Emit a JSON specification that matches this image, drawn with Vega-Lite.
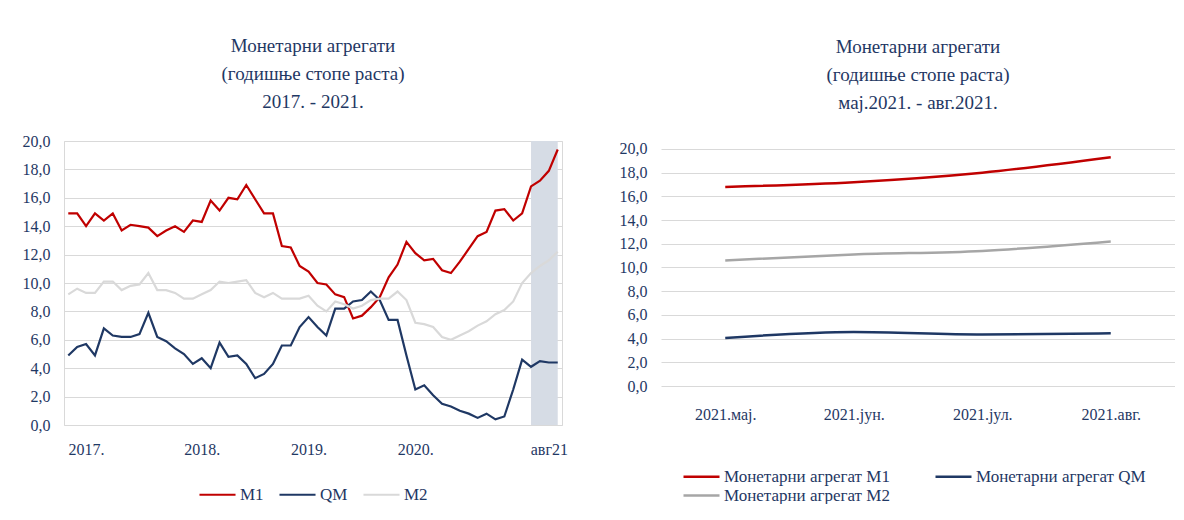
{
  "$schema": "https://vega.github.io/schema/vega-lite/v6.json",
  "padding": {"left": 21, "top": 36, "right": 0, "bottom": 0},
  "background": "white",
  "config": {
    "font": "Liberation Serif",
    "axis": {"labelFont": "Liberation Serif", "labelFontSize": 16, "labelColor": "#1f3864", "ticks": false, "domain": false},
    "legend": {"labelFont": "Liberation Serif", "labelColor": "#1f3864", "layout": {"bottom": {"anchor": "middle"}}},
    "title": {"font": "Liberation Serif", "fontSize": 19, "fontWeight": "normal", "color": "#1f3864", "lineHeight": 28, "anchor": "middle"}
  },
  "spacing": 51,
  "resolve": {"scale": {"color": "independent", "x": "independent", "y": "independent"}, "legend": {"color": "independent"}},
  "hconcat": [
    {
      "width": 498,
      "height": 284,
      "view": {"stroke": "#d9d9d9"},
      "title": {"text": ["Монетарни агрегати", "(годишње стопе раста)", "2017. - 2021."], "offset": 21},
      "layer": [
        {
          "data": {"values": [{"start": "2021-05", "end": "2021-08"}]},
          "mark": {"type": "rect", "color": "#d6dce5"},
          "encoding": {
            "x": {
              "field": "start", "type": "ordinal", "title": null,
              "scale": {"type": "point", "padding": 0.48},
              "axis": {
                "values": ["2017-03", "2018-04", "2019-04", "2020-04", "2021-07"],
                "labelExpr": "datum.value == '2021-07' ? 'авг21' : slice(datum.value, 0, 4) + '.'",
                "labelAngle": 0, "labelAlign": "center", "labelPadding": 16, "grid": false
              }
            },
            "x2": {"field": "end"},
            "y": {
              "datum": 0, "type": "quantitative", "title": null,
              "scale": {"domain": [0, 20], "nice": false},
              "axis": {
                "values": [0, 2, 4, 6, 8, 10, 12, 14, 16, 18, 20],
                "labelExpr": "replace(format(datum.value, '.1f'), '.', ',')",
                "labelOverlap": false,
                "grid": true, "gridColor": "#d9d9d9", "labelPadding": 14
              }
            },
            "y2": {"datum": 20}
          }
        },
        {
          "data": {"values": [
            {"m": "2017-01", "M1": 14.9, "QM": 4.9, "M2": 9.2},
            {"m": "2017-02", "M1": 14.9, "QM": 5.5, "M2": 9.6},
            {"m": "2017-03", "M1": 14.0, "QM": 5.7, "M2": 9.3},
            {"m": "2017-04", "M1": 14.9, "QM": 4.9, "M2": 9.3},
            {"m": "2017-05", "M1": 14.4, "QM": 6.8, "M2": 10.1},
            {"m": "2017-06", "M1": 14.9, "QM": 6.3, "M2": 10.1},
            {"m": "2017-07", "M1": 13.7, "QM": 6.2, "M2": 9.5},
            {"m": "2017-08", "M1": 14.1, "QM": 6.2, "M2": 9.8},
            {"m": "2017-09", "M1": 14.0, "QM": 6.4, "M2": 9.9},
            {"m": "2017-10", "M1": 13.9, "QM": 7.9, "M2": 10.7},
            {"m": "2017-11", "M1": 13.3, "QM": 6.2, "M2": 9.5},
            {"m": "2017-12", "M1": 13.7, "QM": 5.9, "M2": 9.5},
            {"m": "2018-01", "M1": 14.0, "QM": 5.4, "M2": 9.3},
            {"m": "2018-02", "M1": 13.6, "QM": 5.0, "M2": 8.9},
            {"m": "2018-03", "M1": 14.4, "QM": 4.3, "M2": 8.9},
            {"m": "2018-04", "M1": 14.3, "QM": 4.7, "M2": 9.2},
            {"m": "2018-05", "M1": 15.8, "QM": 4.0, "M2": 9.5},
            {"m": "2018-06", "M1": 15.1, "QM": 5.8, "M2": 10.1},
            {"m": "2018-07", "M1": 16.0, "QM": 4.8, "M2": 10.0},
            {"m": "2018-08", "M1": 15.9, "QM": 4.9, "M2": 10.1},
            {"m": "2018-09", "M1": 16.9, "QM": 4.3, "M2": 10.2},
            {"m": "2018-10", "M1": 15.9, "QM": 3.3, "M2": 9.3},
            {"m": "2018-11", "M1": 14.9, "QM": 3.6, "M2": 9.0},
            {"m": "2018-12", "M1": 14.9, "QM": 4.3, "M2": 9.3},
            {"m": "2019-01", "M1": 12.6, "QM": 5.6, "M2": 8.9},
            {"m": "2019-02", "M1": 12.5, "QM": 5.6, "M2": 8.9},
            {"m": "2019-03", "M1": 11.2, "QM": 6.9, "M2": 8.9},
            {"m": "2019-04", "M1": 10.8, "QM": 7.6, "M2": 9.1},
            {"m": "2019-05", "M1": 10.0, "QM": 6.9, "M2": 8.4},
            {"m": "2019-06", "M1": 9.9, "QM": 6.3, "M2": 8.0},
            {"m": "2019-07", "M1": 9.2, "QM": 8.2, "M2": 8.7},
            {"m": "2019-08", "M1": 9.0, "QM": 8.2, "M2": 8.5},
            {"m": "2019-09", "M1": 7.5, "QM": 8.7, "M2": 8.2},
            {"m": "2019-10", "M1": 7.7, "QM": 8.8, "M2": 8.4},
            {"m": "2019-11", "M1": 8.3, "QM": 9.4, "M2": 8.8},
            {"m": "2019-12", "M1": 9.0, "QM": 8.8, "M2": 8.9},
            {"m": "2020-01", "M1": 10.4, "QM": 7.4, "M2": 8.9},
            {"m": "2020-02", "M1": 11.3, "QM": 7.4, "M2": 9.4},
            {"m": "2020-03", "M1": 12.9, "QM": 4.9, "M2": 8.8},
            {"m": "2020-04", "M1": 12.1, "QM": 2.5, "M2": 7.2},
            {"m": "2020-05", "M1": 11.6, "QM": 2.8, "M2": 7.1},
            {"m": "2020-06", "M1": 11.7, "QM": 2.1, "M2": 6.9},
            {"m": "2020-07", "M1": 10.9, "QM": 1.5, "M2": 6.2},
            {"m": "2020-08", "M1": 10.7, "QM": 1.3, "M2": 6.0},
            {"m": "2020-09", "M1": 11.5, "QM": 1.0, "M2": 6.3},
            {"m": "2020-10", "M1": 12.4, "QM": 0.8, "M2": 6.6},
            {"m": "2020-11", "M1": 13.3, "QM": 0.5, "M2": 7.0},
            {"m": "2020-12", "M1": 13.6, "QM": 0.8, "M2": 7.3},
            {"m": "2021-01", "M1": 15.1, "QM": 0.4, "M2": 7.8},
            {"m": "2021-02", "M1": 15.2, "QM": 0.6, "M2": 8.1},
            {"m": "2021-03", "M1": 14.4, "QM": 2.5, "M2": 8.7},
            {"m": "2021-04", "M1": 14.9, "QM": 4.6, "M2": 10.0},
            {"m": "2021-05", "M1": 16.8, "QM": 4.1, "M2": 10.7},
            {"m": "2021-06", "M1": 17.2, "QM": 4.5, "M2": 11.2},
            {"m": "2021-07", "M1": 17.9, "QM": 4.4, "M2": 11.6},
            {"m": "2021-08", "M1": 19.4, "QM": 4.4, "M2": 12.2}
          ]},
          "transform": [{"fold": ["M1", "QM", "M2"], "as": ["series", "value"]}],
          "mark": {"type": "line", "strokeWidth": 2.2},
          "encoding": {
            "x": {
              "field": "m", "type": "ordinal", "title": null,
              "scale": {"type": "point", "padding": 0.48},
              "axis": {
                "values": ["2017-03", "2018-04", "2019-04", "2020-04", "2021-07"],
                "labelExpr": "datum.value == '2021-07' ? 'авг21' : slice(datum.value, 0, 4) + '.'",
                "labelAngle": 0, "labelAlign": "center", "labelPadding": 16, "grid": false
              }
            },
            "y": {
              "field": "value", "type": "quantitative", "title": null,
              "scale": {"domain": [0, 20], "nice": false},
              "axis": {
                "values": [0, 2, 4, 6, 8, 10, 12, 14, 16, 18, 20],
                "labelExpr": "replace(format(datum.value, '.1f'), '.', ',')",
                "labelOverlap": false,
                "grid": true, "gridColor": "#d9d9d9", "labelPadding": 14
              }
            },
            "color": {
              "field": "series", "type": "nominal",
              "scale": {"domain": ["M1", "QM", "M2"], "range": ["#c00000", "#1f3864", "#d9d9d9"]},
              "legend": {
                "orient": "bottom", "direction": "horizontal", "title": null,
                "symbolType": "stroke", "symbolSize": 1300, "symbolStrokeWidth": 2.2,
                "labelFontSize": 17, "columnPadding": 11, "offset": 18, "labelOffset": 3
              }
            }
          }
        }
      ]
    },
    {
      "width": 514,
      "height": 245,
      "view": {"stroke": null},
      "title": {"text": ["Монетарни агрегати", "(годишње стопе раста)", "мај.2021. - авг.2021."], "offset": 28},
      "data": {"values": [
        {"m": "2021.мај.", "s": "Монетарни агрегат М1", "v": 16.8},
        {"m": "2021.јун.", "s": "Монетарни агрегат М1", "v": 17.2},
        {"m": "2021.јул.", "s": "Монетарни агрегат М1", "v": 18.0},
        {"m": "2021.авг.", "s": "Монетарни агрегат М1", "v": 19.3},
        {"m": "2021.мај.", "s": "Монетарни агрегат QM", "v": 4.05},
        {"m": "2021.јун.", "s": "Монетарни агрегат QM", "v": 4.55},
        {"m": "2021.јул.", "s": "Монетарни агрегат QM", "v": 4.35},
        {"m": "2021.авг.", "s": "Монетарни агрегат QM", "v": 4.45},
        {"m": "2021.мај.", "s": "Монетарни агрегат  М2", "v": 10.6},
        {"m": "2021.јун.", "s": "Монетарни агрегат  М2", "v": 11.1},
        {"m": "2021.јул.", "s": "Монетарни агрегат  М2", "v": 11.4},
        {"m": "2021.авг.", "s": "Монетарни агрегат  М2", "v": 12.2}
      ]},
      "mark": {"type": "line", "strokeWidth": 2.5, "interpolate": "monotone"},
      "encoding": {
        "x": {
          "field": "m", "type": "ordinal", "sort": null, "title": null,
          "scale": {"type": "point", "padding": 0.5},
          "axis": {"labelAngle": 0, "labelAlign": "center", "labelPadding": 20, "grid": false}
        },
        "y": {
          "field": "v", "type": "quantitative", "title": null,
          "scale": {"domain": [0, 20.675], "nice": false},
          "axis": {
            "values": [0, 2, 4, 6, 8, 10, 12, 14, 16, 18, 20],
            "labelExpr": "replace(format(datum.value, '.1f'), '.', ',')",
            "labelOverlap": false,
            "grid": true, "gridColor": "#d9d9d9", "labelPadding": 14
          }
        },
        "color": {
          "field": "s", "type": "nominal",
          "scale": {"domain": ["Монетарни агрегат М1", "Монетарни агрегат QM", "Монетарни агрегат  М2"], "range": ["#c00000", "#1f3864", "#a6a6a6"]},
          "legend": {
            "orient": "bottom", "direction": "horizontal", "columns": 2, "title": null,
            "symbolType": "M-2,0H2", "symbolSize": 324, "symbolStrokeWidth": 2.5,
            "labelFontSize": 17, "rowPadding": 0, "columnPadding": 35, "offset": 44,
            "labelOffset": 12, "labelLimit": 300
          }
        }
      }
    }
  ]
}
